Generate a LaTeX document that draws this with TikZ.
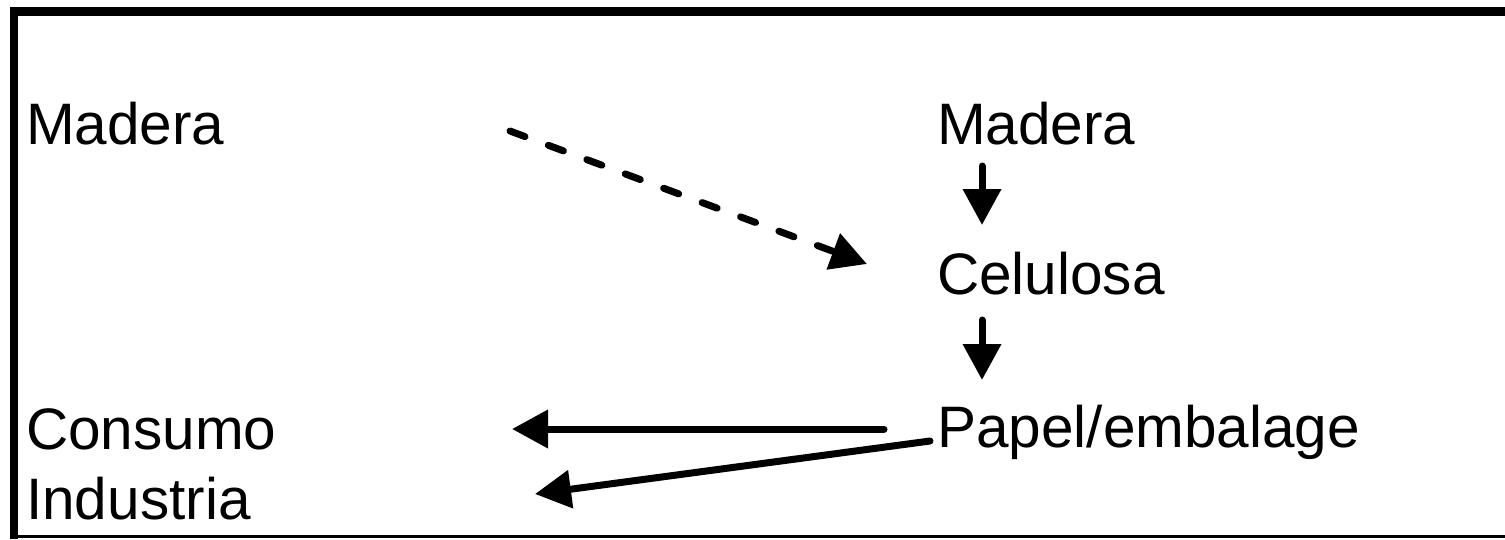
\documentclass[tikz,border=0pt]{standalone}
\usepackage{fontspec}
\setmainfont{Liberation Sans}
\usetikzlibrary{arrows.meta}
\begin{document}
\begin{tikzpicture}[x=1pt,y=-1pt,
  lbl/.style={anchor=base west,inner sep=0pt,font=\fontsize{58.5}{70}\selectfont},
  conn/.style={line width=7pt,line cap=round,-{Triangle[length=36pt,width=37pt]}},
  frame/.style={line cap=butt}]
\useasboundingbox (0,0) rectangle (1505,539);
% frame
\draw[frame,line width=9pt] (10,11.5) -- (1505,11.5);
\draw[frame,line width=8pt] (14,7) -- (14,539);
\draw[frame,line width=3pt] (10,536.5) -- (1505,536.5);
% labels
\node[lbl] (madL) at (26,144) {Madera};
\node[lbl] (madR) at (937,144) {Madera};
\node[lbl] (cel) at (937,294) {Celulosa};
\node[lbl] (pap) at (937,447) {Papel/embalage};
\node[lbl] (con) at (26,449) {Consumo};
\node[lbl] (ind) at (26,519) {Industria};
% connector ends
\coordinate (d1) at (510,131);
\coordinate (d2) at (867,264);
\coordinate (v1a) at (982,166);
\coordinate (v1b) at (982,225);
\coordinate (v2a) at (982,320);
\coordinate (v2b) at (982,380);
\coordinate (h1a) at (884,429);
\coordinate (h1b) at (512,429);
\coordinate (h2a) at (930,441);
\coordinate (h2b) at (535,494);
% connectors
\draw[conn,dash pattern=on 16pt off 25pt] (d1) -- (d2);
\draw[conn] (v1a) -- (v1b);
\draw[conn] (v2a) -- (v2b);
\draw[conn] (h1a) -- (h1b);
\draw[conn] (h2a) -- (h2b);
\end{tikzpicture}
\end{document}
